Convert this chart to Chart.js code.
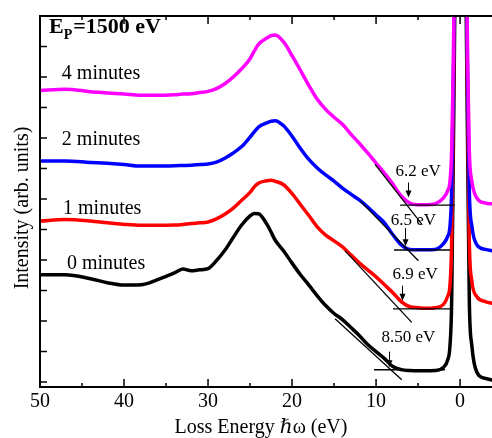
<!DOCTYPE html>
<html>
<head>
<meta charset="utf-8">
<script src="https://cdn.jsdelivr.net/npm/chart.js@4.4.0/dist/chart.umd.min.js"></script>
<style>
  body { margin: 0; background: #fff; }
  #wrap { width: 492px; height: 438px; }
</style>
</head>
<body>
<div id="wrap"><canvas id="eels" width="492" height="438"></canvas></div>
<script>
// loss energy grid (eV) shared by the four spectra
const energy = [50, 47, 44, 42, 40, 38, 36, 34, 33, 32, 31, 30, 29, 28, 27, 26, 25, 24.5, 24, 23,
  22.5, 22, 21, 20, 19, 18, 17, 16, 15, 14, 13, 12, 11, 10, 9, 8, 7, 6, 5, 4,
  3, 2, 1.5, 1.2, 1, 0.8, 0.6, 0, -0.7, -0.9, -1.1, -1.4, -2, -3, -4];

// intensities, offset per sputter time (arb. units)
const min4 = [9.56, 9.60, 9.52, 9.48, 9.44, 9.40, 9.40, 9.42, 9.44, 9.45, 9.49, 9.53, 9.62, 9.78, 10.00, 10.27, 10.60, 10.85, 11.07, 11.28,
  11.36, 11.38, 11.15, 10.70, 10.22, 9.72, 9.27, 8.94, 8.68, 8.45, 8.13, 7.83, 7.51, 7.18, 6.85, 6.49, 6.10, 5.87, 5.81, 5.81,
  5.84, 6.03, 6.26, 6.59, 7.57, 10.5, 16, 40, 16, 10.5, 7.57, 6.59, 6.03, 5.87, 5.84];
const min2 = [7.25, 7.25, 7.20, 7.17, 7.13, 7.08, 7.08, 7.09, 7.10, 7.11, 7.13, 7.15, 7.21, 7.34, 7.51, 7.72, 8.03, 8.20, 8.36, 8.50,
  8.55, 8.57, 8.40, 8.06, 7.66, 7.30, 7.02, 6.79, 6.59, 6.36, 6.16, 5.97, 5.74, 5.48, 5.22, 4.83, 4.50, 4.35, 4.34, 4.34,
  4.35, 4.53, 4.76, 5.12, 6.26, 9.86, 15, 40, 15, 9.86, 6.26, 5.12, 4.50, 4.35, 4.30];
const min1 = [5.28, 5.33, 5.28, 5.22, 5.17, 5.14, 5.14, 5.15, 5.17, 5.20, 5.22, 5.25, 5.35, 5.50, 5.70, 5.96, 6.22, 6.40, 6.52, 6.60,
  6.62, 6.58, 6.47, 6.18, 5.82, 5.46, 5.09, 4.82, 4.63, 4.43, 4.17, 3.91, 3.68, 3.45, 3.19, 2.93, 2.64, 2.47, 2.44, 2.42,
  2.44, 2.54, 2.80, 3.19, 4.63, 9.21, 14, 40, 14, 9.21, 4.63, 3.32, 2.80, 2.64, 2.57];
const min0 = [3.52, 3.52, 3.39, 3.26, 3.18, 3.19, 3.36, 3.58, 3.71, 3.65, 3.68, 3.72, 3.98, 4.32, 4.74, 5.15, 5.45, 5.53, 5.52, 5.18,
  4.92, 4.65, 4.30, 3.90, 3.52, 3.18, 2.83, 2.51, 2.25, 2.05, 1.79, 1.53, 1.23, 1.00, 0.77, 0.51, 0.41, 0.38, 0.37, 0.37,
  0.38, 0.48, 0.71, 1.20, 2.67, 7.57, 13, 40, 13, 7.57, 2.67, 1.20, 0.32, 0.12, 0.06];

const seriesNames = ['4 minutes', '2 minutes', '1 minutes', '0 minutes'];
const seriesColors = ['#ff00ff', '#0000ff', '#ff0000', '#000000'];
// where each name sits: [energy, intensity]
const namePos = [[47.4, 10.10], [47.4, 7.96], [47.26, 5.68], [46.8, 3.88]];

// band-gap onset construction: stated onset, flat floor, linear edge fit
const onsetValues = [6.2, 6.5, 6.9, 8.50];
const onsetLabels = ['6.2 eV', '6.5 eV', '6.9 eV', '8.50 eV'];
const onsetLabelPos = [[5.0, 6.90], [5.56, 5.28], [5.36, 3.54], [6.15, 1.47]];
const arrowSpan = [[6.54, 6.05], [5.05, 4.45], [3.16, 2.67], [1.00, 0.49]];
const floorLines = [[7.14, 0.6, 5.80], [7.86, 1.19, 4.33], [7.98, 0.99, 2.40], [10.24, 1.79, 0.405]];
const edgeLines = [[10.12, 7.14, 4.56, 5.18], [11.9, 5.94, 4.96, 3.98], [13.69, 4.30, 5.75, 1.96], [14.88, 2.08, 6.94, 0.08]];

const xMajor = [50, 40, 30, 20, 10, 0];
const xMinor = [45, 35, 25, 15, 5];
const yTicks = [0, 1, 2, 3, 4, 5, 6, 7, 8, 9, 10, 11];

const serif = '"Liberation Serif", "Times New Roman", "DejaVu Serif", serif';

const spectra = [min4, min2, min1, min0].map((vals, i) => ({
  data: energy.map((e, k) => ({ x: e, y: vals[k] })),
  borderColor: seriesColors[i],
  borderWidth: 3.5,
  cubicInterpolationMode: 'monotone',
  pointRadius: 0,
  clip: 0,
  order: i + 1
}));

const guides = [];
floorLines.forEach(f => guides.push({
  data: [{ x: f[0], y: f[2] }, { x: f[1], y: f[2] }],
  borderColor: '#000', borderWidth: 1.3, pointRadius: 0, order: 0
}));
edgeLines.forEach(t => guides.push({
  data: [{ x: t[0], y: t[1] }, { x: t[2], y: t[3] }],
  borderColor: '#000', borderWidth: 1.3, pointRadius: 0, order: 0
}));

// axes frame, inward ticks, labels and annotations
const frame = {
  id: 'frame',
  afterDatasetsDraw(chart) {
    const { ctx, chartArea: a, scales: { x, y } } = chart;
    ctx.save();

    // arrows pointing at the onset
    ctx.fillStyle = '#000';
    ctx.strokeStyle = '#000';
    ctx.lineWidth = 1;
    onsetValues.forEach((v, i) => {
      const px = Math.round(x.getPixelForValue(v)) + 0.5;
      const y0 = y.getPixelForValue(arrowSpan[i][0]);
      const y1 = y.getPixelForValue(arrowSpan[i][1]);
      ctx.beginPath();
      ctx.moveTo(px, y0);
      ctx.lineTo(px, y1 - 5);
      ctx.stroke();
      ctx.beginPath();
      ctx.moveTo(px - 3, y1 - 7);
      ctx.lineTo(px + 3, y1 - 7);
      ctx.lineTo(px, y1);
      ctx.closePath();
      ctx.fill();
    });

    ctx.font = '17px ' + serif;
    ctx.textAlign = 'center';
    ctx.textBaseline = 'middle';
    onsetLabels.forEach((t, i) => {
      ctx.fillText(t, x.getPixelForValue(onsetLabelPos[i][0]), y.getPixelForValue(onsetLabelPos[i][1]));
    });

    ctx.font = '20px ' + serif;
    ctx.textAlign = 'left';
    seriesNames.forEach((t, i) => {
      ctx.fillText(t, x.getPixelForValue(namePos[i][0]), y.getPixelForValue(namePos[i][1]));
    });

    // frame
    ctx.lineWidth = 2;
    ctx.beginPath();
    ctx.moveTo(a.right + 2, a.top);
    ctx.lineTo(a.left, a.top);
    ctx.lineTo(a.left, a.bottom);
    ctx.lineTo(a.right + 2, a.bottom);
    ctx.stroke();

    ctx.lineWidth = 1.5;
    ctx.beginPath();
    const xt = (vals, len) => vals.forEach(v => {
      const px = x.getPixelForValue(v);
      ctx.moveTo(px, a.bottom); ctx.lineTo(px, a.bottom - len);
      ctx.moveTo(px, a.top); ctx.lineTo(px, a.top + len);
    });
    xt(xMajor, 8);
    xt(xMinor, 4);
    yTicks.forEach(v => {
      const py = y.getPixelForValue(v);
      ctx.moveTo(a.left, py); ctx.lineTo(a.left + 7, py);
    });
    ctx.stroke();

    // tick labels
    ctx.font = '20px ' + serif;
    ctx.textAlign = 'center';
    ctx.textBaseline = 'middle';
    xMajor.forEach(v => ctx.fillText(String(v), x.getPixelForValue(v), a.bottom + 15));

    // axis titles
    ctx.fillText('Loss Energy \u210Fω (eV)', 261, a.bottom + 41);
    ctx.save();
    ctx.translate(23, 208);
    ctx.rotate(-Math.PI / 2);
    ctx.fillText('Intensity (arb. units)', 0, 0);
    ctx.restore();

    // primary energy
    ctx.textAlign = 'left';
    ctx.textBaseline = 'alphabetic';
    let tx = a.left + 9;
    const ty = a.top + 17;
    ctx.font = 'bold 22px ' + serif;
    ctx.fillText('E', tx, ty);
    tx += ctx.measureText('E').width;
    ctx.font = 'bold 14px ' + serif;
    ctx.fillText('P', tx, ty + 6);
    tx += ctx.measureText('P').width + 1;
    ctx.font = 'bold 22px ' + serif;
    ctx.fillText('=1500 eV', tx, ty);

    ctx.restore();
  }
};

new Chart(document.getElementById('eels'), {
  type: 'line',
  data: { datasets: [...guides, ...spectra] },
  options: {
    responsive: false,
    animation: false,
    devicePixelRatio: 1,
    layout: { padding: { left: 40, top: 16, right: 0, bottom: 51 } },
    scales: {
      x: { type: 'linear', reverse: true, min: -3.8, max: 50, display: false },
      y: { type: 'linear', min: -0.16, max: 12, display: false }
    },
    plugins: { legend: { display: false }, tooltip: { enabled: false } }
  },
  plugins: [frame]
});
</script>
</body>
</html>
